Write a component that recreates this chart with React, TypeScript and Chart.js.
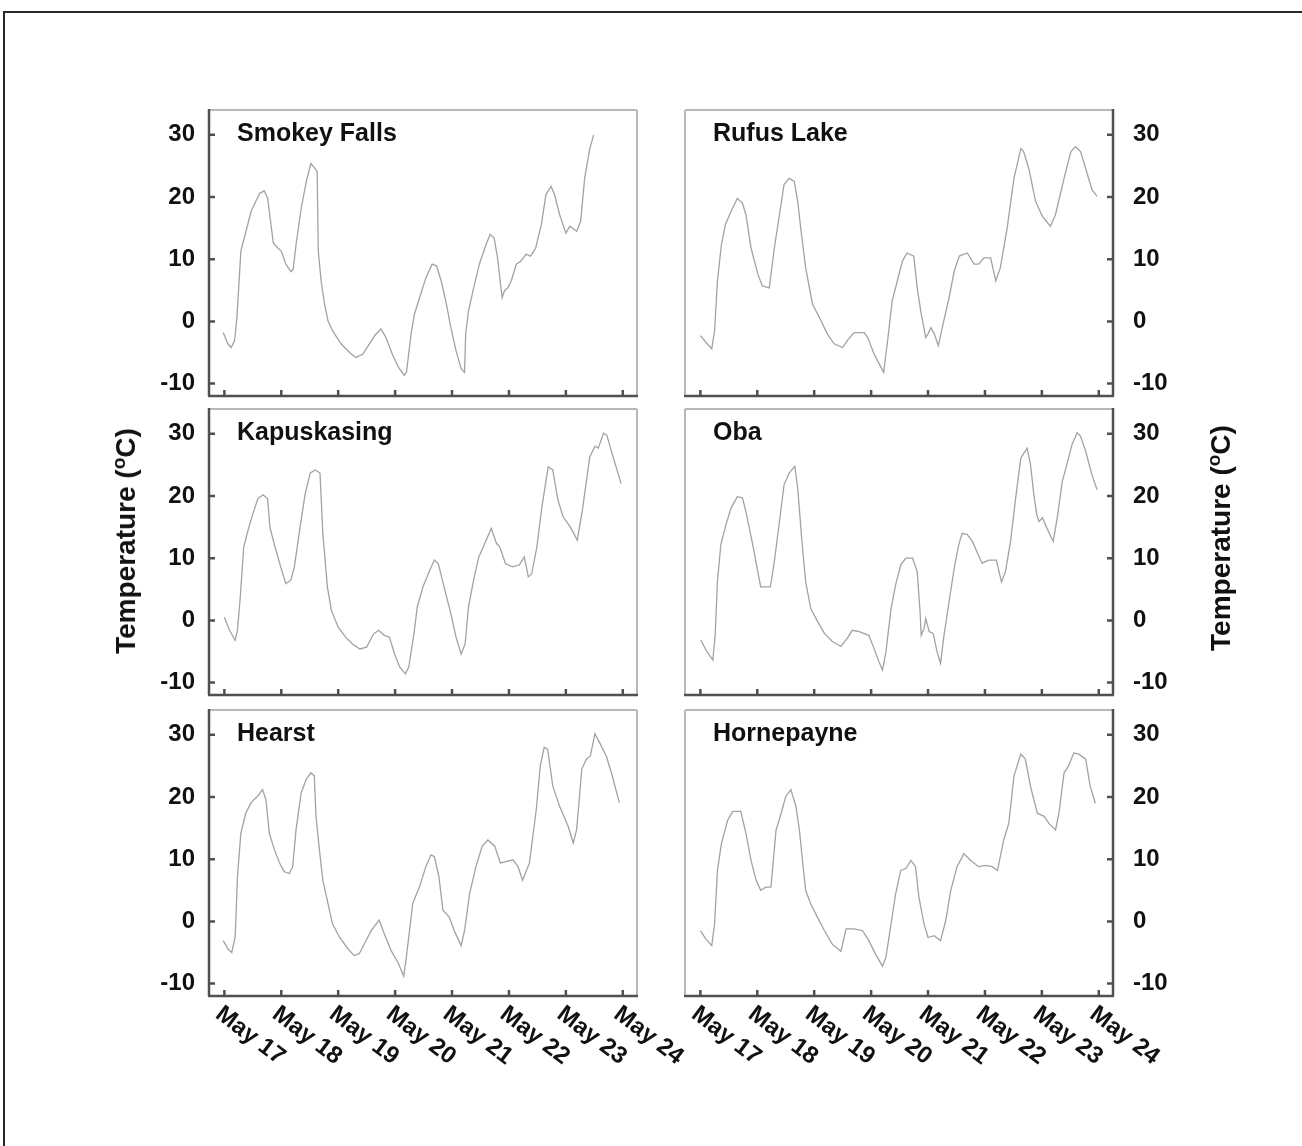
import React, { useEffect, useRef } from 'react';
import { Chart, registerables } from 'chart.js';

Chart.register(...registerables);

const FONT = '"Liberation Sans", Arial, Helvetica, sans-serif';

// x values are days after May 17 00:00
const dayLabels = ['May 17', 'May 18', 'May 19', 'May 20', 'May 21', 'May 22', 'May 23', 'May 24'];
const yTickStep = 10;
const yAxisTitle = 'Temperature (';

const smokeyFallsX = [-0.02, 0.06, 0.12, 0.18, 0.22, 0.29, 0.38, 0.47, 0.62, 0.70, 0.76, 0.86, 0.94, 1.00, 1.08, 1.17, 1.21, 1.26, 1.35, 1.44, 1.52, 1.59, 1.63, 1.65, 1.70, 1.76, 1.82, 1.90, 2.05, 2.20, 2.31, 2.43, 2.55, 2.64, 2.75, 2.84, 2.96, 3.06, 3.16, 3.20, 3.28, 3.34, 3.43, 3.54, 3.65, 3.73, 3.81, 3.90, 3.98, 4.07, 4.16, 4.22, 4.24, 4.29, 4.38, 4.48, 4.60, 4.67, 4.74, 4.80, 4.88, 4.92, 4.98, 5.04, 5.13, 5.21, 5.30, 5.38, 5.47, 5.57, 5.65, 5.74, 5.80, 5.89, 6.00, 6.07, 6.19, 6.26, 6.33, 6.42, 6.49];
const smokeyFallsY = [-1.8, -3.6, -4.2, -3.1, 0.6, 11.3, 14.5, 17.7, 20.6, 21, 19.8, 12.6, 11.8, 11.3, 9.2, 8, 8.4, 12.4, 18.2, 22.5, 25.4, 24.6, 24.1, 11.3, 6.5, 2.8, 0.1, -1.5, -3.6, -5, -5.8, -5.3, -3.6, -2.3, -1.2, -2.6, -5.5, -7.4, -8.7, -8.2, -2, 1.2, 3.8, 7, 9.2, 8.9, 6.5, 2.8, -1, -4.7, -7.6, -8.2, -2, 1.7, 5.4, 9.2, 12.4, 14, 13.4, 10.2, 3.8, 4.9, 5.4, 6.5, 9.2, 9.7, 10.8, 10.5, 11.8, 15.6, 20.4, 21.7, 20.4, 17.2, 14.2, 15.3, 14.5, 16.1, 23, 27.8, 30];

const rufusLakeX = [0, 0.10, 0.20, 0.25, 0.30, 0.37, 0.44, 0.54, 0.65, 0.74, 0.80, 0.89, 1.01, 1.09, 1.21, 1.30, 1.39, 1.47, 1.56, 1.65, 1.71, 1.77, 1.85, 1.97, 2.12, 2.23, 2.35, 2.50, 2.58, 2.70, 2.88, 2.94, 3.05, 3.14, 3.22, 3.29, 3.37, 3.46, 3.55, 3.63, 3.75, 3.81, 3.88, 3.96, 4.00, 4.05, 4.11, 4.18, 4.25, 4.37, 4.46, 4.55, 4.69, 4.81, 4.89, 4.98, 5.10, 5.19, 5.27, 5.39, 5.51, 5.63, 5.68, 5.77, 5.89, 6.01, 6.15, 6.24, 6.39, 6.51, 6.59, 6.68, 6.77, 6.88, 6.97];
const rufusLakeY = [-2.3, -3.4, -4.4, -1.5, 6.5, 12.4, 15.6, 17.7, 19.8, 19, 17.2, 11.8, 7.6, 5.7, 5.4, 11.8, 17.2, 22, 23, 22.5, 19.3, 14.5, 8.6, 2.8, 0.1, -2, -3.6, -4.2, -3.1, -1.8, -1.8, -2.6, -5.2, -6.8, -8.2, -3.1, 3.3, 6.5, 9.7, 11, 10.5, 5.4, 1.2, -2.6, -2, -1, -2, -3.9, -1, 3.8, 8.1, 10.5, 11, 9.2, 9.2, 10.2, 10.2, 6.5, 8.6, 15, 23, 27.8, 27.3, 24.6, 19.3, 16.9, 15.3, 17.2, 23, 27.3, 28.1, 27.3, 24.6, 21.2, 20.1];

const kapuskasingX = [0, 0.09, 0.19, 0.23, 0.28, 0.34, 0.43, 0.52, 0.59, 0.68, 0.76, 0.80, 0.89, 0.99, 1.08, 1.17, 1.23, 1.33, 1.42, 1.51, 1.60, 1.68, 1.73, 1.81, 1.88, 2.00, 2.13, 2.25, 2.38, 2.50, 2.62, 2.71, 2.81, 2.90, 2.99, 3.08, 3.18, 3.24, 3.33, 3.39, 3.49, 3.61, 3.69, 3.76, 3.86, 3.98, 4.07, 4.16, 4.23, 4.29, 4.38, 4.47, 4.60, 4.69, 4.78, 4.84, 4.94, 5.06, 5.18, 5.27, 5.34, 5.40, 5.49, 5.58, 5.69, 5.77, 5.86, 5.95, 6.08, 6.20, 6.29, 6.42, 6.51, 6.57, 6.66, 6.72, 6.81, 6.89, 6.97];
const kapuskasingY = [0.5, -1.6, -3.2, -1.6, 3.8, 11.8, 15, 17.7, 19.6, 20.2, 19.6, 15, 11.8, 8.6, 5.9, 6.5, 8.6, 15, 20.4, 23.7, 24.2, 23.7, 14, 5.4, 1.6, -1.1, -2.7, -3.8, -4.6, -4.3, -2.2, -1.6, -2.4, -2.7, -5.4, -7.5, -8.6, -7.5, -2.2, 2.2, 5.4, 8.1, 9.7, 9.1, 5.4, 1.1, -2.7, -5.4, -3.8, 2.2, 6.5, 10.2, 12.9, 14.8, 12.4, 11.8, 9.1, 8.6, 8.9, 10.2, 7, 7.5, 11.8, 18.3, 24.7, 24.2, 19.4, 16.7, 15, 12.9, 17.7, 26.3, 28, 27.7, 30.1, 29.8, 26.9, 24.5, 22];

const obaX = [0.01, 0.10, 0.22, 0.26, 0.30, 0.36, 0.45, 0.54, 0.65, 0.74, 0.80, 0.92, 1.01, 1.06, 1.23, 1.30, 1.39, 1.47, 1.56, 1.66, 1.71, 1.78, 1.85, 1.94, 2.06, 2.18, 2.32, 2.47, 2.58, 2.67, 2.79, 2.96, 3.05, 3.14, 3.20, 3.26, 3.35, 3.43, 3.52, 3.61, 3.73, 3.81, 3.86, 3.88, 3.93, 3.96, 4.02, 4.09, 4.16, 4.22, 4.28, 4.37, 4.46, 4.54, 4.60, 4.69, 4.78, 4.87, 4.95, 5.07, 5.20, 5.29, 5.36, 5.45, 5.54, 5.63, 5.74, 5.80, 5.86, 5.91, 5.95, 6.01, 6.09, 6.20, 6.27, 6.36, 6.44, 6.53, 6.62, 6.68, 6.77, 6.88, 6.97];
const obaY = [-3.2, -4.8, -6.4, -2.4, 6.2, 12.2, 15.4, 18.1, 19.9, 19.7, 17.5, 12.2, 7.8, 5.4, 5.4, 9.5, 15.9, 21.8, 23.7, 24.8, 21.3, 13.2, 6.2, 1.9, -0.2, -2.1, -3.4, -4.2, -2.9, -1.6, -1.8, -2.4, -4.5, -6.7, -8, -5.1, 1.9, 5.7, 8.9, 10, 10, 7.8, 1.4, -2.4, -1.3, 0.3, -1.8, -2.1, -5.1, -6.9, -2.4, 3, 8.4, 12.2, 14, 13.8, 12.7, 10.8, 9.2, 9.7, 9.7, 6.2, 7.8, 12.7, 19.7, 26.1, 27.7, 25.1, 20.2, 17, 15.9, 16.5, 14.8, 12.7, 16.5, 22.4, 25.1, 28.3, 30.2, 29.6, 27.2, 23.4, 21];

const hearstX = [-0.02, 0.06, 0.13, 0.19, 0.23, 0.29, 0.38, 0.47, 0.59, 0.67, 0.73, 0.79, 0.88, 0.97, 1.05, 1.14, 1.20, 1.26, 1.35, 1.44, 1.52, 1.58, 1.61, 1.67, 1.73, 1.82, 1.90, 2.02, 2.17, 2.28, 2.37, 2.46, 2.58, 2.72, 2.81, 2.93, 3.05, 3.15, 3.19, 3.31, 3.43, 3.54, 3.63, 3.69, 3.77, 3.84, 3.90, 3.95, 4.04, 4.16, 4.22, 4.31, 4.42, 4.53, 4.63, 4.75, 4.85, 4.95, 5.07, 5.16, 5.24, 5.36, 5.48, 5.55, 5.62, 5.68, 5.77, 5.89, 6.04, 6.13, 6.19, 6.28, 6.36, 6.43, 6.51, 6.59, 6.71, 6.80, 6.94];
const hearstY = [-3.1, -4.4, -5, -2.5, 7.2, 14.2, 17.5, 19.1, 20.2, 21.2, 19.6, 14.2, 11.5, 9.4, 8, 7.7, 8.8, 14.8, 20.7, 22.9, 23.9, 23.4, 16.9, 11.5, 6.6, 2.9, -0.4, -2.5, -4.4, -5.5, -5.2, -3.6, -1.5, 0.2, -2, -4.7, -6.6, -8.8, -6.3, 2.9, 5.6, 8.8, 10.7, 10.4, 7.2, 1.8, 1.2, 0.7, -1.5, -3.9, -1.5, 4.5, 8.8, 12.1, 13.1, 12.1, 9.4, 9.6, 9.9, 8.8, 6.6, 9.4, 18, 25, 28, 27.7, 21.8, 18.5, 15.3, 12.6, 14.8, 24.5, 26.1, 26.6, 30.2, 28.8, 26.6, 23.9, 19.1];

const hornepayneX = [0, 0.10, 0.20, 0.25, 0.30, 0.37, 0.48, 0.57, 0.71, 0.80, 0.89, 0.98, 1.06, 1.15, 1.24, 1.33, 1.42, 1.50, 1.59, 1.68, 1.74, 1.80, 1.85, 1.94, 2.06, 2.18, 2.32, 2.47, 2.56, 2.70, 2.85, 2.96, 3.08, 3.20, 3.26, 3.35, 3.43, 3.52, 3.61, 3.70, 3.78, 3.84, 3.93, 4.00, 4.11, 4.22, 4.31, 4.40, 4.51, 4.63, 4.75, 4.89, 5.01, 5.13, 5.22, 5.33, 5.42, 5.51, 5.63, 5.71, 5.80, 5.92, 6.04, 6.12, 6.24, 6.30, 6.39, 6.47, 6.56, 6.65, 6.77, 6.85, 6.94];
const hornepayneY = [-1.5, -2.9, -3.9, -0.4, 8.2, 12.5, 16.3, 17.7, 17.7, 14.2, 9.8, 6.6, 5, 5.5, 5.5, 14.7, 17.4, 20.1, 21.2, 18.5, 14.7, 9.3, 5, 2.8, 0.6, -1.5, -3.7, -4.8, -1.2, -1.2, -1.5, -3.1, -5.3, -7.2, -5.8, -0.4, 4.4, 8.2, 8.5, 9.8, 8.8, 3.9, -0.4, -2.6, -2.3, -3.1, 0.1, 5, 8.8, 10.9, 9.8, 8.8, 9, 8.8, 8.2, 13.1, 15.8, 23.4, 26.9, 26.1, 21.7, 17.4, 16.9, 15.8, 14.7, 17.4, 23.9, 25, 27.1, 26.9, 26.1, 21.7, 19];

type PanelDef = { name: string; xs: number[]; ys: number[]; col: number; row: number };

const panels: PanelDef[] = [
  { name: 'Smokey Falls', xs: smokeyFallsX, ys: smokeyFallsY, col: 0, row: 0 },
  { name: 'Rufus Lake', xs: rufusLakeX, ys: rufusLakeY, col: 1, row: 0 },
  { name: 'Kapuskasing', xs: kapuskasingX, ys: kapuskasingY, col: 0, row: 1 },
  { name: 'Oba', xs: obaX, ys: obaY, col: 1, row: 1 },
  { name: 'Hearst', xs: hearstX, ys: hearstY, col: 0, row: 2 },
  { name: 'Hornepayne', xs: hornepayneX, ys: hornepayneY, col: 1, row: 2 },
];

// layout (page pixels)
const PLOT_W = 428;
const PLOT_H = 286;
const ROW_TOP = [110, 409, 710];
const TOP_PAD = 12;

function Panel({ p }: { p: PanelDef }) {
  const ref = useRef<HTMLCanvasElement | null>(null);
  const left = p.col === 0;
  const yAxisW = left ? 79 : 77;
  const padL = left ? 0 : 25;
  const padR = left ? 63 : 0;
  const xAxisH = p.row === 2 ? 110 : 6;
  const width = padL + yAxisW + PLOT_W + padR;
  const height = TOP_PAD + PLOT_H + xAxisH;
  const canvasLeft = left ? 130 : 660;
  const canvasTop = ROW_TOP[p.row] - TOP_PAD;

  useEffect(() => {
    if (!ref.current) return;
    const deco = {
      id: 'panelDeco',
      afterDraw(chart: any) {
        const { ctx, chartArea: ca, scales } = chart;
        const xs = scales.x;
        const ys = scales.y;
        ctx.save();
        // light frame
        ctx.strokeStyle = '#b8b8b8';
        ctx.lineWidth = 2;
        ctx.beginPath();
        ctx.moveTo(ca.left, ca.top);
        ctx.lineTo(ca.right, ca.top);
        const fx = left ? ca.right : ca.left;
        ctx.moveTo(fx, ca.top);
        ctx.lineTo(fx, ca.bottom);
        ctx.stroke();
        // axes
        ctx.strokeStyle = '#505050';
        ctx.lineWidth = 2.5;
        ctx.beginPath();
        ctx.moveTo(ca.left - 1, ca.bottom);
        ctx.lineTo(ca.right + 1, ca.bottom);
        const ax = left ? ca.left : ca.right;
        ctx.moveTo(ax, ca.top - 1);
        ctx.lineTo(ax, ca.bottom);
        xs.ticks.forEach((_t: any, i: number) => {
          const px = xs.getPixelForTick(i);
          ctx.moveTo(px, ca.bottom);
          ctx.lineTo(px, ca.bottom - 6);
        });
        ys.ticks.forEach((_t: any, i: number) => {
          const py = ys.getPixelForTick(i);
          ctx.moveTo(ax, py);
          ctx.lineTo(ax + (left ? 6 : -6), py);
        });
        ctx.stroke();
        // title
        ctx.fillStyle = '#111';
        ctx.font = `bold 25px ${FONT}`;
        ctx.textAlign = 'left';
        ctx.textBaseline = 'middle';
        ctx.fillText(p.name, ca.left + 28, ca.top + 24);
        // rotated date labels
        if (p.row === 2) {
          ctx.font = `bold 24px ${FONT}`;
          ctx.textBaseline = 'top';
          xs.ticks.forEach((t: any, i: number) => {
            const px = xs.getPixelForTick(i);
            const lbl = dayLabels[Math.round(t.value)];
            if (!lbl) return;
            ctx.save();
            ctx.translate(px + 1, ca.bottom + 6);
            ctx.rotate((37 * Math.PI) / 180);
            ctx.fillText(lbl, 0, 0);
            ctx.restore();
          });
        }
        ctx.restore();
      },
    };

    const chart = new Chart(ref.current, {
      type: 'line',
      data: {
        datasets: [
          {
            data: p.xs.map((x, i) => ({ x, y: p.ys[i] })),
            borderColor: '#a2a2a2',
            borderWidth: 1.3,
            pointRadius: 0,
            tension: 0,
            fill: false,
          },
        ],
      },
      options: {
        responsive: false,
        animation: false,
        devicePixelRatio: 1,
        layout: { padding: { top: TOP_PAD, left: padL, right: padR, bottom: 0 } },
        plugins: { legend: { display: false }, tooltip: { enabled: false } },
        scales: {
          x: {
            type: 'linear',
            min: -0.27,
            max: 7.25,
            grid: { display: false, drawTicks: false },
            border: { display: false },
            ticks: { stepSize: 1, includeBounds: false, display: false },
            afterFit: (s: any) => {
              s.height = xAxisH;
              s.paddingLeft = 0;
              s.paddingRight = 0;
            },
          },
          y: {
            type: 'linear',
            position: left ? 'left' : 'right',
            min: -12,
            max: 34,
            grid: { display: false, drawTicks: false },
            border: { display: false },
            ticks: {
              stepSize: yTickStep,
              includeBounds: false,
              color: '#111',
              padding: left ? 14 : 20,
              font: { family: FONT, size: 24, weight: 'bold' },
            },
            afterFit: (s: any) => {
              s.width = yAxisW;
              s.paddingTop = 0;
              s.paddingBottom = 0;
            },
          },
        },
      } as any,
      plugins: [deco],
    });
    return () => chart.destroy();
  }, []);

  return (
    <canvas
      ref={ref}
      width={width}
      height={height}
      style={{ position: 'absolute', left: canvasLeft, top: canvasTop, width, height }}
    />
  );
}

function AxisTitle({ x, y }: { x: number; y: number }) {
  return (
    <div
      style={{
        position: 'absolute',
        left: x,
        top: y,
        transform: 'translate(-50%, -50%) rotate(-90deg)',
        whiteSpace: 'nowrap',
        fontFamily: FONT,
        fontWeight: 'bold',
        fontSize: 28,
        color: '#111',
        lineHeight: 1,
      }}
    >
      {yAxisTitle}
      <span style={{ fontSize: '0.68em', position: 'relative', top: '-0.55em' }}>o</span>
      C)
    </div>
  );
}

export default function App() {
  return (
    <div
      style={{
        position: 'fixed',
        left: 0,
        top: 0,
        width: 1302,
        height: 1146,
        overflow: 'hidden',
        background: '#fff',
      }}
    >
      <div
        style={{
          position: 'absolute',
          left: 3,
          top: 11,
          width: 1400,
          height: 1300,
          borderTop: '2px solid #2a2a2a',
          borderLeft: '2px solid #2a2a2a',
        }}
      />
      {panels.map((p) => (
        <Panel key={p.name} p={p} />
      ))}
      <AxisTitle x={126} y={541} />
      <AxisTitle x={1221} y={538} />
    </div>
  );
}
